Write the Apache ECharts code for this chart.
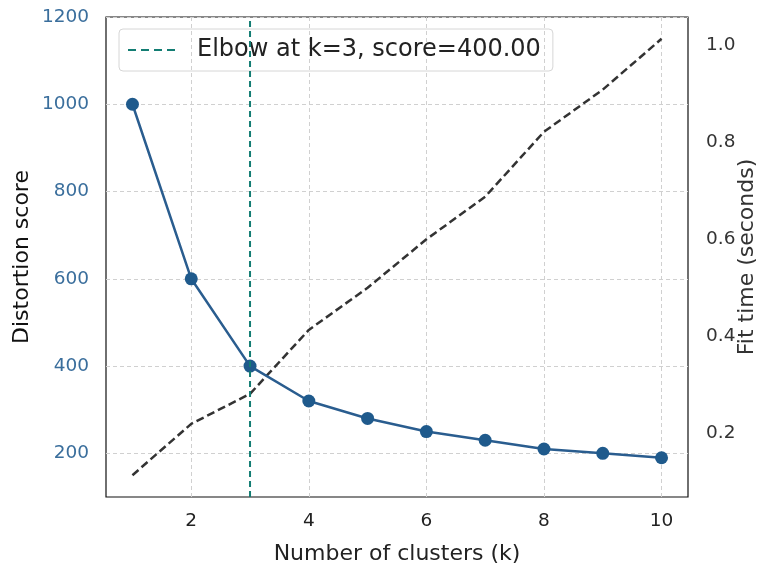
<!DOCTYPE html>
<html>
<head>
<meta charset="utf-8">
<script src="https://cdn.jsdelivr.net/npm/echarts@6/dist/echarts.min.js"></script>
<style>html,body{margin:0;padding:0;background:#fff;}#c{width:757px;height:570px;}</style>
</head>
<body>
<div id="c"></div>
<script>
const ks = [1, 2, 3, 4, 5, 6, 7, 8, 9, 10];
const distortion = [1000, 600, 400, 320, 280, 250, 230, 210, 200, 190];
const fitTime = [0.113, 0.219, 0.281, 0.413, 0.500, 0.600, 0.688, 0.822, 0.909, 1.014];
const elbowK = 3;
const elbowScore = 400;
const elbowLabel = 'Elbow at k=3, score=400.00';
const xTicks = [2, 4, 6, 8, 10];
const leftTicks = [200, 400, 600, 800, 1000, 1200];
const rightTicks = [0.2, 0.4, 0.6, 0.8, 1.0];

const font = 'DejaVu Sans';
const chart = echarts.init(document.getElementById('c'), null, {renderer: 'canvas'});
const gridLine = {show: true, lineStyle: {color: '#d0d0d0', type: [4, 3], width: 1}};
chart.setOption({
  animation: false,
  backgroundColor: '#fff',
  grid: {left: 106, right: 69, top: 17, bottom: 73, show: true, containLabel: false, outerBoundsMode: 'none',
    borderColor: '#111', borderWidth: 1.2, backgroundColor: 'transparent'},
  legend: {
    left: 119, top: 29, padding: [9, 12, 9, 9],
    data: [{name: elbowLabel, icon: 'path://M0,0h8v2h-8z M13,0h8v2h-8z M26,0h8v2h-8z M39,0h8v2h-8z'}],
    borderColor: '#d6d6d6', borderWidth: 1, borderRadius: 4,
    itemWidth: 47, itemHeight: 2, itemGap: 10,
    textStyle: {fontFamily: font, fontSize: 24, color: '#222', padding: [0, 0, 0, 17]}
  },
  xAxis: {
    type: 'value', min: 0.55, max: 10.45,
    name: 'Number of clusters (k)', nameLocation: 'middle', nameGap: 46, nameMoveOverlap: false,
    nameTextStyle: {fontFamily: font, fontSize: 22, color: '#222'},
    axisLine: {show: false}, axisTick: {show: false, customValues: xTicks},
    axisLabel: {fontFamily: font, fontSize: 18.5, color: '#222', margin: 15, customValues: xTicks,
      formatter: v => String(v)},
    splitLine: gridLine
  },
  yAxis: [
    {
      type: 'value', min: 100, max: 1200, position: 'left',
      name: 'Distortion score', nameLocation: 'middle', nameGap: 73, nameRotate: 90, nameMoveOverlap: false,
      nameTextStyle: {fontFamily: font, fontSize: 22, color: '#111'},
      axisLine: {show: false}, axisTick: {show: false, customValues: leftTicks},
      axisLabel: {fontFamily: font, fontSize: 18.5, color: '#3a6e9c', margin: 17, customValues: leftTicks,
        formatter: v => String(v)},
      splitLine: gridLine
    },
    {
      type: 'value', min: 0.068, max: 1.059, position: 'right',
      name: 'Fit time (seconds)', nameLocation: 'middle', nameGap: 48, nameRotate: 90, nameMoveOverlap: false,
      nameTextStyle: {fontFamily: font, fontSize: 22, color: '#333'},
      axisLine: {show: false}, axisTick: {show: false, customValues: rightTicks},
      axisLabel: {fontFamily: font, fontSize: 18.5, color: '#333', margin: 18, customValues: rightTicks,
        formatter: v => Number(v).toFixed(1)},
      splitLine: {show: false}
    }
  ],
  series: [
    {
      name: 'Distortion', type: 'line', xAxisIndex: 0, yAxisIndex: 0,
      data: ks.map((k, i) => [k, distortion[i]]),
      symbol: 'circle', symbolSize: 13,
      lineStyle: {color: '#2a5d8f', width: 2.5},
      itemStyle: {color: '#1f5a8c'}, z: 3
    },
    {
      name: 'Fit time', type: 'line', xAxisIndex: 0, yAxisIndex: 1,
      data: ks.map((k, i) => [k, fitTime[i]]),
      symbol: 'none',
      lineStyle: {color: '#333', width: 2.5, type: [8, 4]}, z: 2
    },
    {
      name: elbowLabel, type: 'line', xAxisIndex: 0, yAxisIndex: 0,
      data: [[elbowK, 100], [elbowK, 1200]],
      symbol: 'none',
      lineStyle: {color: '#137d73', width: 2, type: [6, 4]},
      itemStyle: {color: '#137d73'}, z: 4
    }
  ]
});
</script>
</body>
</html>
